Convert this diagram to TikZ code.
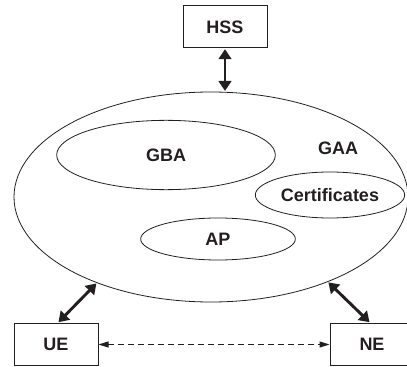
\documentclass[tikz,border=0pt]{standalone}
\usepackage{fontspec}
\setmainfont{Liberation Sans}
\usetikzlibrary{shapes.geometric,arrows.meta}
\definecolor{ink}{HTML}{231F20}

\begin{document}
\begin{tikzpicture}[
    x=0.75pt, y=-0.75pt,
    box/.style={
        draw=ink, line width=0.75pt, inner sep=0pt,
        minimum width=#1, minimum height=32pt,
        font=\bfseries\fontsize{13.5}{15}\selectfont, text=ink,
    },
    oval/.style={
        draw=ink, line width=0.6pt, ellipse, inner sep=0pt,
        font=\bfseries\fontsize{13.5}{15}\selectfont, text=ink,
    },
    lbl/.style={font=\bfseries\fontsize{13.5}{15}\selectfont, text=ink},
    biarr/.style={{Triangle[width=9.5pt,length=7.5pt]}-{Triangle[width=9.5pt,length=7.5pt]},
        line width=2.2pt, color=ink, shorten <=0.5pt, shorten >=0.5pt},
    dasharr/.style={{Triangle[width=4.5pt,length=7.5pt]}-{Triangle[width=4.5pt,length=7.5pt]},
        line width=0.75pt, color=ink, dash pattern=on 4.5pt off 3pt},
]
\useasboundingbox (0,0) rectangle (407,367);

% ════════════════════════════════════════
% GAA and its parts
% ════════════════════════════════════════
\node[oval, minimum width=295.5pt, minimum height=157.5pt] (gaa) at (211,197) {};
\node[lbl] (gaalbl) at (338,148) {GAA};
\node[oval, minimum width=164pt, minimum height=52pt] (gba) at (166,155) {GBA};
\node[oval, minimum width=112pt, minimum height=34.5pt] (cert) at (330,195) {Certificates};
\node[oval, minimum width=116pt, minimum height=31.5pt] (ap) at (218,239) {AP};

% ════════════════════════════════════════
% Boxes
% ════════════════════════════════════════
\node[box=63pt, minimum height=31.5pt] (hss) at (225,27) {HSS};
\node[box=63pt] (ue) at (56,344.5) {UE};
\node[box=63pt] (ne) at (372,344.5) {NE};

% ════════════════════════════════════════
% Connections
% ════════════════════════════════════════
\draw[biarr] (hss.south) -- (hss.south |- gaa.north);
\draw[biarr] ([xshift=1.5pt]ue.north) -- (gaa.217);
\draw[biarr] ([xshift=-1.5pt]ne.north) -- (gaa.324);
\draw[dasharr] (ue.east) -- (ne.west);

\end{tikzpicture}
\end{document}
